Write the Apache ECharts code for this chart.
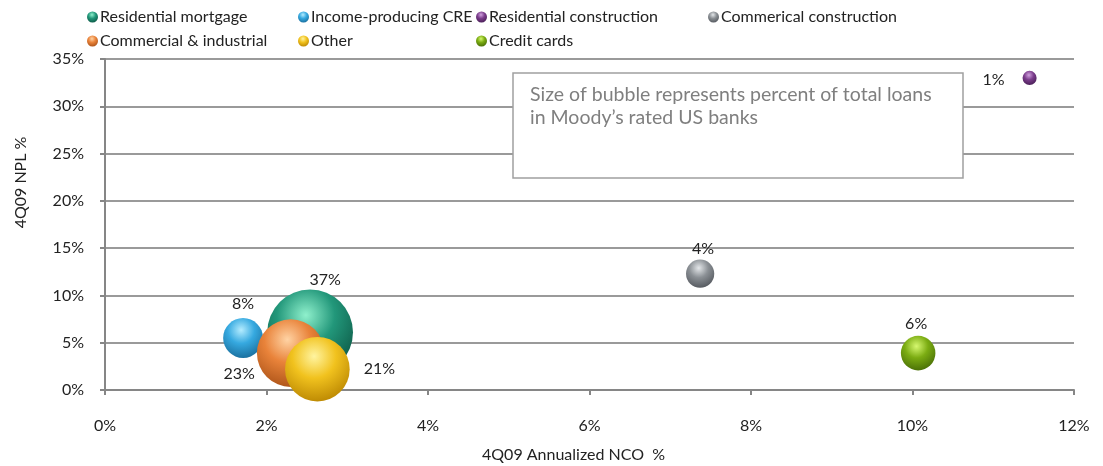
<!DOCTYPE html>
<html>
<head>
<meta charset="utf-8">
<script src="https://cdn.jsdelivr.net/npm/echarts@6/dist/echarts.min.js"></script>
<style>
  html, body { margin: 0; padding: 0; background: #fff; }
  #chart { width: 1103px; height: 466px; }
</style>
</head>
<body>
<div id="chart"></div>
<script>
// Loan categories and their 4Q09 credit metrics (percent)
const categories = [
  'Residential mortgage',
  'Income-producing CRE',
  'Residential construction',
  'Commerical construction',
  'Commercial & industrial',
  'Other',
  'Credit cards'
];
const ncoValues = [2.54, 1.71, 11.45, 7.37, 2.30, 2.63, 10.07];   // annualized NCO %
const nplValues = [6.1, 5.5, 33.0, 12.3, 3.9, 2.2, 3.9];         // NPL %
const loanShare = [37, 8, 1, 4, 23, 21, 6];                      // % of total loans

// sphere shading: [highlight, base, shadow]
const palette = [
  ['#8ff0cc', '#22977a', '#0b5442'],
  ['#b4ecff', '#36a9e0', '#176a98'],
  ['#d0a0de', '#7b3d8c', '#451c52'],
  ['#e4e7ea', '#8b9095', '#50545a'],
  ['#ffd3a4', '#e9833a', '#a85016'],
  ['#fff4a0', '#f1c21e', '#b88400'],
  ['#d6f870', '#7bac12', '#456a06']
];

// label placement for each bubble
const labelPlacement = [
  { position: 'top', distance: 2, offset: [15, 0] },
  { position: 'top', distance: 6, offset: [0, 0] },
  { position: 'left', distance: 18, offset: [0, 2] },
  { position: 'top', distance: 3, offset: [3, 0] },
  { position: 'left', distance: 2, offset: [0, 21] },
  { position: 'right', distance: 14, offset: [0, 0] },
  { position: 'top', distance: 4, offset: [-2, 0] }
];

const FONT = 'Lato, "Open Sans", sans-serif';
const BUBBLE_SCALE = 14.1;   // diameter = scale * sqrt(share)

function sphere(c) {
  return {
    type: 'radial', x: 0.45, y: 0.3, r: 0.75,
    colorStops: [
      { offset: 0, color: c[0] },
      { offset: 0.45, color: c[1] },
      { offset: 1, color: c[2] }
    ]
  };
}

const series = categories.map((name, i) => ({
  name: name,
  type: 'scatter',
  data: [[ncoValues[i], nplValues[i], loanShare[i]]],
  symbolSize: d => BUBBLE_SCALE * Math.sqrt(d[2]),
  itemStyle: { color: sphere(palette[i]), opacity: 1 },
  label: {
    show: true,
    position: labelPlacement[i].position,
    distance: labelPlacement[i].distance,
    offset: labelPlacement[i].offset,
    formatter: p => p.value[2] + '%',
    color: '#222',
    fontSize: 16,
    fontFamily: FONT
  },
  emphasis: { disabled: true }
}));

// legend laid out as four columns
const legendColumns = [
  { left: 82, names: [categories[0], categories[4]] },
  { left: 293, names: [categories[1], categories[5]] },
  { left: 471, names: [categories[2], categories[6]] },
  { left: 703, names: [categories[3]] }
];

const legends = legendColumns.map(col => ({
  left: col.left,
  top: 4,
  orient: 'vertical',
  data: col.names.map(n => ({ name: n, icon: 'circle' })),
  itemWidth: 11,
  itemHeight: 11,
  itemGap: 8,
  textStyle: { fontSize: 16, fontFamily: FONT, color: '#222', lineHeight: 16, padding: [0, 0, 0, -3] },
  selectedMode: false
}));

const chart = echarts.init(document.getElementById('chart'));
chart.setOption({
  animation: false,
  legend: legends,
  grid: { left: 105, right: 29, top: 59, bottom: 76, outerBoundsMode: 'none', containLabel: false },
  xAxis: {
    type: 'value',
    min: 0, max: 12, interval: 2,
    name: '4Q09 Annualized NCO  %',
    nameLocation: 'middle',
    nameGap: 57,
    nameTextStyle: { fontSize: 16, fontFamily: FONT, color: '#222', padding: [0, 32, 0, 0] },
    axisLine: { lineStyle: { color: '#868686', width: 2 } },
    axisTick: { show: true, length: 5, lineStyle: { color: '#868686', width: 2 } },
    axisLabel: { formatter: v => v + '%', fontSize: 16, fontFamily: FONT, color: '#222', margin: 28 },
    splitLine: { show: false }
  },
  yAxis: {
    type: 'value',
    min: 0, max: 35, interval: 5,
    name: '4Q09 NPL %',
    nameLocation: 'middle',
    nameGap: 76,
    nameTextStyle: { fontSize: 16, fontFamily: FONT, color: '#222', padding: [0, 0, 0, 84] },
    axisLine: { show: true, lineStyle: { color: '#868686', width: 2 } },
    axisTick: { show: true, length: 5, lineStyle: { color: '#868686', width: 2 } },
    axisLabel: { formatter: v => v + '%', fontSize: 16, fontFamily: FONT, color: '#222', margin: 21 },
    splitLine: { show: true, lineStyle: { color: '#9a9a9a', width: 2 } }
  },
  graphic: [
    {
      type: 'rect',
      shape: { x: 513, y: 73, width: 450, height: 105 },
      style: { fill: '#fff', stroke: '#a0a0a0', lineWidth: 1.5 },
      z: 10
    },
    {
      type: 'text',
      left: 530, top: 83,
      style: {
        text: 'Size of bubble represents percent of total loans\nin Moody\u2019s rated US banks',
        fill: '#7f7f7f',
        font: '19.5px ' + FONT,
        lineHeight: 23
      },
      z: 11
    }
  ],
  series: series
});
</script>
</body>
</html>
